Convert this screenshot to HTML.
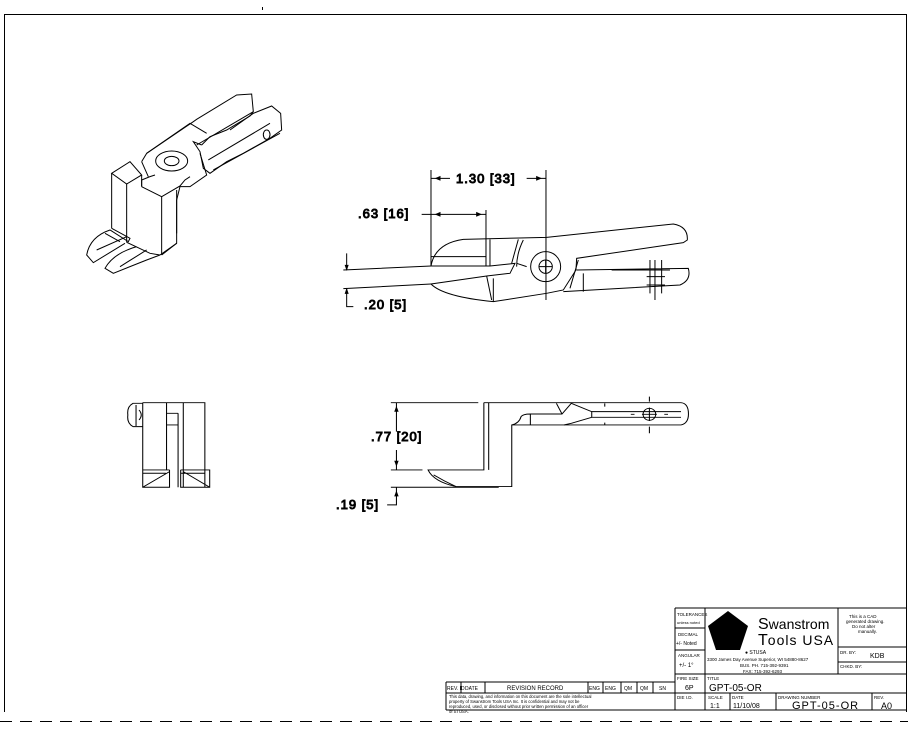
<!DOCTYPE html>
<html><head><meta charset="utf-8"><style>
html,body{margin:0;padding:0;background:#fff;}
svg{display:block;}
text{font-family:"Liberation Sans",sans-serif;fill:#000;}
</style></head><body>
<svg width="908" height="733" viewBox="0 0 908 733" xmlns="http://www.w3.org/2000/svg">
<g fill="none" stroke="#000" stroke-width="1">
<rect x="262" y="7" width="1" height="3" fill="#000" stroke="none"/>
<path d="M4.5,712 V14.5 H906.5 V712"/>
<line x1="0" y1="721.5" x2="908" y2="721.5" stroke-dasharray="12,8"/>

<!-- Isometric view -->
<g transform="translate(70,80) scale(0.3333)" stroke-width="3">
<path d="M125,280 L180,245 L215,285 L170,312 Z"/>
<path d="M125,280 V445 M170,312 V487 M215,285 V320"/>
<path d="M215,320 L275,350 V525 M275,350 L330,318 L345,300 L360,290 M320,330 V490 L275,525"/>
<path d="M215,320 V300 L240,290 L255,285"/>
<path d="M215,245 L230,220 L370,125 L380,118 L500,45 L545,42 L550,95 L540,108 L470,150 L420,170 L395,195"/>
<path d="M215,245 L235,290 M230,220 L360,130 L410,160"/>
<path d="M395,195 L370,185 L390,215 L400,265 L420,280 L470,245 L520,220 L600,175 L635,150 L632,100 L605,78 L550,100 L480,150"/>
<path d="M380,195 L550,95 M415,240 L600,130 M430,270 L630,160 M390,220 L410,285 L360,320 L330,320 L320,360 L320,460"/>
<path d="M590,150 a10,14 0 1,0 0.1,0"/>
<ellipse cx="305" cy="243" rx="48" ry="30"/>
<ellipse cx="305" cy="243" rx="22" ry="14"/>
<path d="M125,445 L180,475 L175,485 L120,450 Q60,470 50,525 L70,548 L165,490"/>
<path d="M105,460 L150,485 M80,510 L170,470"/>
<path d="M170,487 L240,520 L270,525 L320,490 M200,500 Q130,520 105,565 L130,580 L230,540 L270,525 M150,560 L230,510"/>
</g>

<!-- Top view -->
<g transform="translate(330,160) scale(0.3333)" stroke-width="3">
<path d="M303,30 V318 M648,30 V350 M468,150 V318 M648,350 V420"/>
<path d="M303,55 H360 M590,55 H648 M303,163 H468 M275,163 H303"/>
<path d="M318,55 l12,-5 v10 z M632,55 l-12,-5 v10 z M318,163 l12,-5 v10 z M452,163 l-12,-5 v10 z" fill="#000"/>
<path d="M40,330 L303,318 M40,386 L303,372 M50,280 V330 M50,386 V440 H70"/>
<path d="M50,328 l-4,-12 h8 z M50,388 l-4,12 h8 z" fill="#000"/>
<path d="M303,318 Q315,250 400,238 L650,232 L1030,192 Q1075,200 1072,240 L1060,248 L740,295 L738,330 L700,390 L650,400 L490,425 Q340,410 303,372 L470,348 L540,340 L555,310 L480,318 L303,318"/>
<path d="M303,290 H468 M468,238 V318 M480,238 V318 M565,238 L545,310 M580,240 Q560,280 560,320 M470,348 L485,420 M490,355 L490,425 M740,330 L1075,325 Q1085,360 1050,375 L700,395 M745,300 L720,385 M760,340 V395 M845,330 H1020 M960,300 V400 M975,300 V420 M995,300 V400 M950,350 H1005 M950,375 H1005 M1005,330 H1020"/>
<path d="M560,310 L590,320"/>
<circle cx="647" cy="320" r="45"/>
<circle cx="647" cy="320" r="20"/>
<path d="M627,320 H667 M647,300 V340"/>
</g>
<g font-size="13" letter-spacing="1">
<text x="456" y="183">1.30 [33]</text>
<text x="358" y="218">.63 [16]</text>
<text x="364" y="309">.20 [5]</text>
<text x="371" y="441">.77 [20]</text>
<text x="336" y="509">.19 [5]</text>
</g>

<!-- Side views -->
<g transform="translate(110,390) scale(0.372,0.333)" stroke-width="2.8">
<path d="M88,38 H255 V292 H190 V240 M88,38 V292 H160 V240 M152,38 V240 M183,70 V292 M197,38 V292 M152,70 H183 M152,105 H183 M88,240 H160 M190,240 H268 V292 H255 M88,292 L160,245 M197,245 L268,292 M88,250 H150 M190,250 H255"/>
<path d="M88,40 H62 Q45,50 48,75 Q45,100 62,110 H88 M70,45 V108 M78,60 Q90,75 78,90"/>
<path d="M755,38 H990 M755,240 H840 M755,292 H1045 M770,38 V125 M770,180 V240 M770,292 V345 H745"/>
<path d="M770,52 l-4,12 h8 z M770,226 l-4,-12 h8 z M770,306 l-4,12 h8 z" fill="#000"/>
<path d="M1005,38 V240 H855 Q870,275 930,290 H1080 V105 H1535 Q1555,100 1555,72 Q1555,40 1535,38 H1005 M1018,38 V240"/>
<path d="M1080,105 Q1100,100 1105,80 Q1110,72 1130,72 H1215 L1240,40 L1295,65 H1535 M1295,82 H1535 M1295,82 L1240,100 L1220,105 M1295,65 V82 M1130,72 V105 M1215,72 L1200,40 M1330,40 V50 M1330,98 V105"/>
<path d="M870,255 Q900,275 930,290"/>
<ellipse cx="1450" cy="73" rx="17" ry="18"/>
<path d="M1430,73 H1470 M1450,53 V93 M1450,20 V35 M1450,110 V130 M1400,73 H1410 M1490,73 H1500"/>
</g>

<!-- Title block -->
<path d="M675,608 H906 M675,608 V710 M705,608 V710 M838,608 V674 M675,674 H906 M675,693 H906 M838,647 H906 M838,662 H906 M675,628 H705 M675,650 H705 M730,693 V710 M776,693 V710 M872,693 V710 M446,682 H675 M446,693 H675 M446,682 V710 M446,710 H906 M461,682 V693 M485,682 V693 M588,682 V693 M603,682 V693 M621,682 V693 M637,682 V693 M653,682 V693"/>
<polygon points="728,611 748,626 740,650 716,650 708,626" fill="#000" stroke="none"/>
</g>
<g font-size="6">
<text x="677" y="616" font-size="4.5">TOLERANCES</text>
<text x="677" y="624" font-size="4">unless noted</text>
<text x="678" y="636" font-size="4.5">DECIMAL</text>
<text x="676" y="645" font-size="5">+/- Noted</text>
<text x="678" y="657" font-size="4.5">ANGULAR</text>
<text x="679" y="667" font-size="6">+/- 1°</text>
<text x="758" y="629" font-size="16">S<tspan font-size="14">wanstrom</tspan></text>
<text x="758" y="645" font-size="16">T<tspan font-size="14" letter-spacing="1">ools USA</tspan></text>
<text x="745" y="654" font-size="5">●  STUSA</text>
<text x="707" y="661" font-size="4.5">3300 James Day Avenue Superior, WI 54880-8627</text>
<text x="740" y="667" font-size="4.5">BUS. PH. 715-392-9391</text>
<text x="743" y="673" font-size="4.5">FAX: 715-392-6293</text>
<text x="849" y="618" font-size="4.5">This is a CAD</text>
<text x="846" y="623" font-size="4.5">generated drawing.</text>
<text x="852" y="628" font-size="4.5">Do not alter</text>
<text x="858" y="633" font-size="4.5">manually.</text>
<text x="840" y="654" font-size="4.5">DR. BY:</text>
<text x="870" y="658" font-size="7">KDB</text>
<text x="840" y="668" font-size="4.5">CHKD. BY:</text>
<text x="677" y="680" font-size="4.5">FIRE SIZE</text>
<text x="685" y="690" font-size="7">6P</text>
<text x="707" y="680" font-size="4.5">TITLE</text>
<text x="709" y="691" font-size="10">GPT-05-OR</text>
<text x="677" y="699" font-size="4.5">DIE I.D.</text>
<text x="708" y="699" font-size="4.5">SCALE</text>
<text x="710" y="708" font-size="7">1:1</text>
<text x="732" y="699" font-size="4.5">DATE</text>
<text x="733" y="708" font-size="7">11/10/08</text>
<text x="778" y="699" font-size="4.5">DRAWING NUMBER</text>
<text x="792" y="709" font-size="11" letter-spacing="1">GPT-05-OR</text>
<text x="874" y="699" font-size="4.5">REV.</text>
<text x="881" y="709" font-size="9">A0</text>
<text x="447" y="690" font-size="5">REV. ID</text>
<text x="465" y="690" font-size="5">DATE</text>
<text x="507" y="690" font-size="6">REVISION RECORD</text>
<text x="589" y="690" font-size="5">ENG</text>
<text x="605" y="690" font-size="5">ENG</text>
<text x="624" y="690" font-size="5">QM</text>
<text x="640" y="690" font-size="5">QM</text>
<text x="659" y="690" font-size="5">SN</text>
<text x="449" y="698" font-size="4.2">This data, drawing, and information on this document are the sole intellectual</text>
<text x="449" y="703" font-size="4.2">property of Swanstrom Tools USA Inc.  It is confidential and may not be</text>
<text x="449" y="708" font-size="4.2">reproduced, used, or disclosed without prior written permission of an officer</text>
<text x="449" y="713" font-size="4.2">of STUSA.</text>
</g>
</svg>
</body></html>
